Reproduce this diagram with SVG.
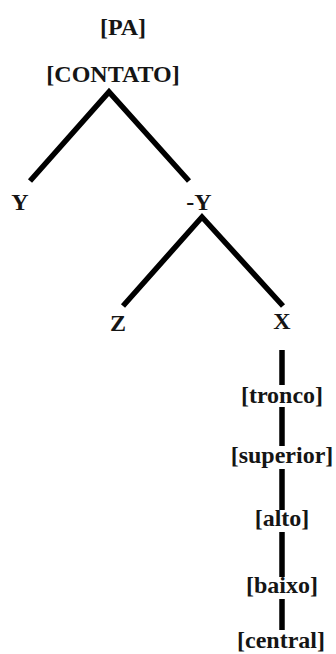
<svg xmlns="http://www.w3.org/2000/svg" width="336" height="654" viewBox="0 0 336 654">
<style>
.t{font-family:"Liberation Serif","Times New Roman",serif;font-weight:bold;font-size:24px;fill:#151515;text-anchor:middle}
.e{stroke:#000;stroke-width:5.5;fill:none;stroke-linecap:butt}
</style>
<rect width="336" height="654" fill="#fff"/>
<g id="connectors">
<polyline class="e" points="30,181 109,92 189,181"/>
<polyline class="e" points="123,306 202,217 283,306"/>
<line class="e" x1="282" y1="350" x2="282" y2="385"/>
<line class="e" x1="282" y1="407" x2="282" y2="446"/>
<line class="e" x1="282" y1="469" x2="282" y2="510"/>
<line class="e" x1="282" y1="532" x2="282" y2="577"/>
<line class="e" x1="282" y1="599" x2="282" y2="630"/>
</g>
<g id="pa"><text class="t" x="123" y="35">[PA]</text></g>
<g id="contato"><text class="t" x="113" y="82">[CONTATO]</text></g>
<g id="y"><text class="t" x="20" y="210">Y</text></g>
<g id="negy"><text class="t" x="199" y="210">-Y</text></g>
<g id="z"><text class="t" x="118" y="331">Z</text></g>
<g id="x"><text class="t" x="282" y="329">X</text></g>
<g id="tronco"><text class="t" x="282" y="403">[tronco]</text></g>
<g id="superior"><text class="t" x="282" y="463">[superior]</text></g>
<g id="alto"><text class="t" x="282" y="526">[alto]</text></g>
<g id="baixo"><text class="t" x="282" y="593">[baixo]</text></g>
<g id="central"><text class="t" x="281" y="648">[central]</text></g>
</svg>
